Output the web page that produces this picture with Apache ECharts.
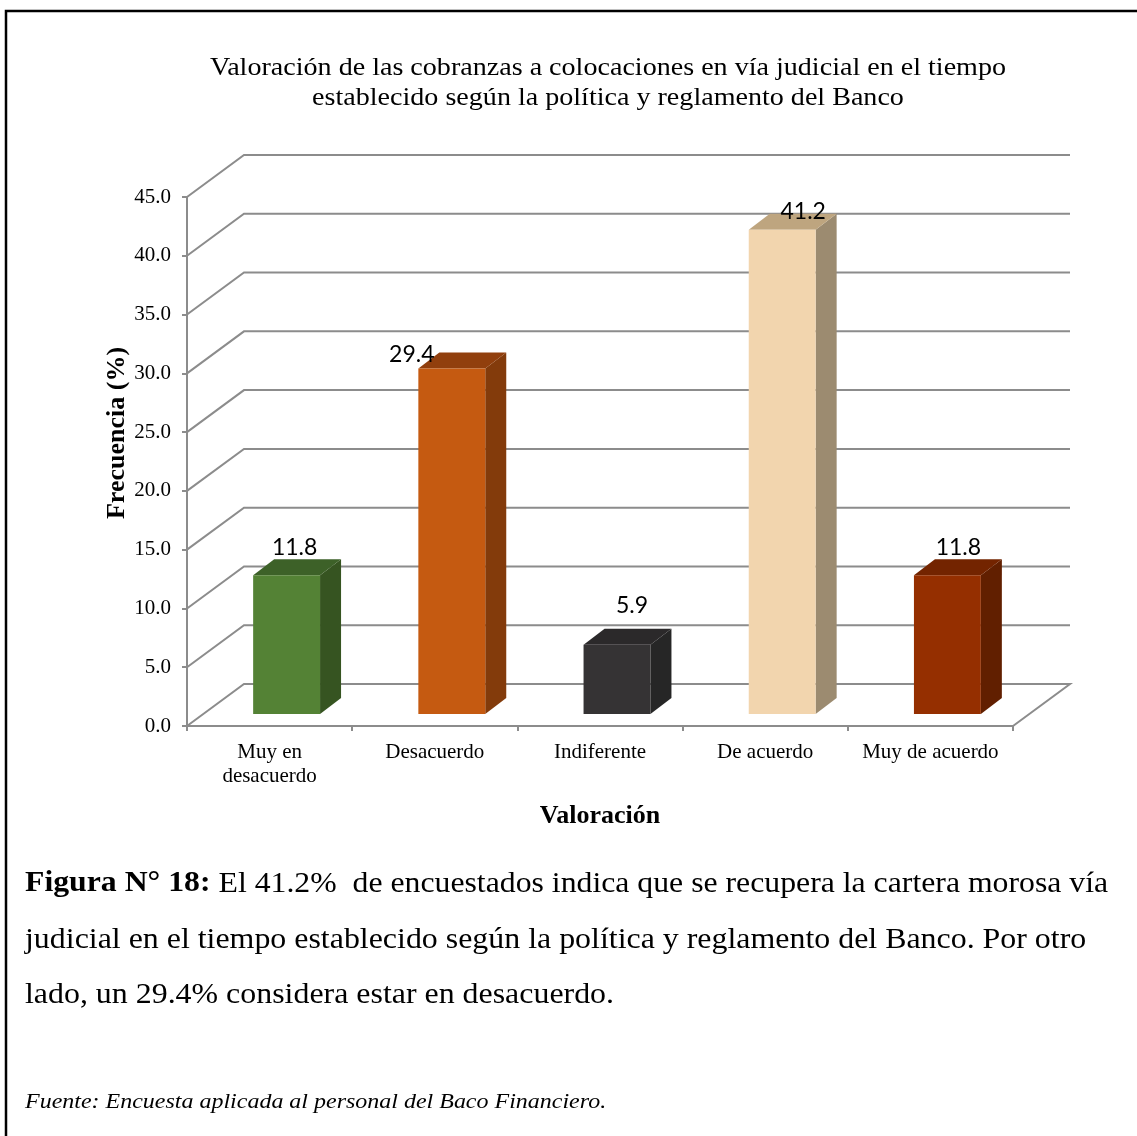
<!DOCTYPE html>
<html>
<head>
<meta charset="utf-8">
<script src="https://cdn.jsdelivr.net/npm/echarts@6/dist/echarts.min.js"></script>
<style>
  html, body { margin: 0; padding: 0; background: #ffffff; }
  #chart { width: 1137px; height: 1136px; }
</style>
</head>
<body>
<div id="chart"></div>
<script>
// Categories and percentages
const categories = ['Muy en\ndesacuerdo', 'Desacuerdo', 'Indiferente', 'De acuerdo', 'Muy de acuerdo'];
const values = [11.8, 29.4, 5.9, 41.2, 11.8];
const yTicks = [0, 5, 10, 15, 20, 25, 30, 35, 40, 45];

// Face colours of each 3D column: front, side, top
const frontColors = ['#548235', '#c55a11', '#353334', '#f2d5ae', '#952f00'];
const sideColors  = ['#365421', '#833b0b', '#262626', '#9c8b70', '#611f00'];
const topColors   = ['#3d6128', '#913f0d', '#2b292a', '#bea57f', '#732400'];

// Label nudges (px) from the top-centre of each column's front face
const labelNudge = [[8, -28], [-40, -14], [15, -39], [21, -18], [11, -28]];

// Projection used to fake depth
const WALL_DX = 57, WALL_DY = -42;   // back wall offset
const FACE_DX = 17, FACE_DY = -12;   // column front face offset
const SIDE_DX = 21, SIDE_DY = -16;   // column depth
const BAR_RATIO = 0.405;

const GRID_COLOR = '#8c8c8c';
const serif = '"Liberation Serif", "Times New Roman", serif';
const WIDE = 1.09;   // horizontal stretch of the page text

const chart = echarts.init(document.getElementById('chart'));

function renderWall(params, api) {
  const cs = params.coordSys;
  const v = api.value(1);
  const y = api.coord([0, v])[1];
  const x0 = cs.x, x1 = cs.x + cs.width;
  const pts = [[x0, y], [x0 + WALL_DX, y + WALL_DY], [x1 + WALL_DX, y + WALL_DY]];
  if (v === 0) pts.push([x1, y]);
  return {
    type: 'polyline',
    shape: { points: pts },
    style: { stroke: GRID_COLOR, lineWidth: 2, fill: null }
  };
}

function renderColumn(params, api) {
  const i = api.value(0);
  const v = api.value(1);
  const top = api.coord([i, v]);
  const base = api.coord([i, 0]);
  const w = api.size([1, 0])[0] * BAR_RATIO;
  const cx = top[0] + FACE_DX;
  const xl = cx - w / 2, xr = cx + w / 2;
  const yt = top[1] + FACE_DY, yb = base[1] + FACE_DY;
  const nudge = labelNudge[i];
  return {
    type: 'group',
    children: [
      {
        type: 'polygon',
        shape: { points: [[xr, yt], [xr + SIDE_DX, yt + SIDE_DY], [xr + SIDE_DX, yb + SIDE_DY], [xr, yb]] },
        style: { fill: sideColors[i] }
      },
      {
        type: 'polygon',
        shape: { points: [[xl, yt], [xl + SIDE_DX, yt + SIDE_DY], [xr + SIDE_DX, yt + SIDE_DY], [xr, yt]] },
        style: { fill: topColors[i] }
      },
      {
        type: 'rect',
        shape: { x: xl, y: yt, width: w, height: yb - yt },
        style: { fill: frontColors[i] }
      },
      {
        type: 'text',
        x: cx + nudge[0],
        y: yt + nudge[1],
        style: {
          text: v.toFixed(1),
          fill: '#000000',
          font: '23px Lato, "Noto Sans", sans-serif',
          align: 'center',
          verticalAlign: 'middle'
        }
      }
    ]
  };
}

function pageText(x, y, text, font, extra) {
  return Object.assign({
    type: 'text',
    x: x,
    y: y,
    scaleX: WIDE,
    style: { text: text, font: font, fill: '#000000', verticalAlign: 'middle' }
  }, extra || {});
}

const option = {
  animation: false,
  backgroundColor: '#ffffff',
  grid: { left: 187, right: 124, top: 197, bottom: 410, containLabel: false },
  xAxis: {
    type: 'category',
    data: categories,
    boundaryGap: true,
    name: 'Valoración',
    nameLocation: 'middle',
    nameGap: 77,
    nameTextStyle: { fontFamily: serif, fontWeight: 'bold', fontSize: 26, color: '#000000' },
    axisLine: { show: true, lineStyle: { color: GRID_COLOR, width: 2 } },
    axisTick: { show: true, length: 5, lineStyle: { color: GRID_COLOR, width: 2 } },
    axisLabel: {
      interval: 0,
      margin: 14,
      fontFamily: serif,
      fontSize: 21,
      lineHeight: 24,
      color: '#000000',
      verticalAlign: 'top'
    },
    splitLine: { show: false }
  },
  yAxis: {
    type: 'value',
    min: 0,
    max: 45,
    interval: 5,
    axisLine: { show: true, lineStyle: { color: GRID_COLOR, width: 2 } },
    axisTick: { show: true, length: 5, lineStyle: { color: GRID_COLOR, width: 2 } },
    axisLabel: {
      margin: 16,
      fontFamily: serif,
      fontSize: 21,
      color: '#000000',
      formatter: v => v.toFixed(1)
    },
    splitLine: { show: false }
  },
  series: [
    {
      type: 'custom',
      name: 'walls',
      z: 1,
      renderItem: renderWall,
      encode: { x: 0, y: 1 },
      data: yTicks.map(t => [0, t]),
      silent: true
    },
    {
      type: 'custom',
      name: 'Frecuencia',
      z: 3,
      renderItem: renderColumn,
      encode: { x: 0, y: 1 },
      data: values.map((v, i) => [i, v])
    }
  ],
  graphic: [
    // page frame
    {
      type: 'polyline',
      shape: { points: [[6, 1136], [6, 11], [1137, 11]] },
      style: { stroke: '#000000', lineWidth: 2.5, fill: null }
    },
    // chart title
    {
      type: 'text',
      x: 608,
      y: 83,
      scaleX: 1.08,
      style: {
        text: 'Valoración de las cobranzas a colocaciones en vía judicial en el tiempo\nestablecido según la política y reglamento del Banco',
        font: '26px ' + serif,
        lineHeight: 30,
        fill: '#000000',
        align: 'center',
        verticalAlign: 'middle'
      }
    },
    {
      type: 'text',
      x: 117,
      y: 433,
      rotation: Math.PI / 2,
      style: {
        text: 'Frecuencia (%)',
        font: 'bold 26px ' + serif,
        fill: '#000000',
        align: 'center',
        verticalAlign: 'middle'
      }
    },
    // figure caption
    {
      type: 'text',
      x: 25,
      y: 884,
      scaleX: 1.095,
      style: {
        text: '{b|Figura N° 18:} El 41.2%  de encuestados indica que se recupera la cartera morosa vía',
        rich: { b: { font: 'bold 29px ' + serif, fill: '#000000' } },
        font: '29px ' + serif,
        fill: '#000000',
        verticalAlign: 'middle'
      }
    },
    pageText(25, 940, 'judicial en el tiempo establecido según la política y reglamento del Banco. Por otro', '29px ' + serif, { scaleX: 1.1 }),
    pageText(25, 995, 'lado, un 29.4% considera estar en desacuerdo.', '29px ' + serif, { scaleX: 1.1 }),
    pageText(25, 1102, 'Fuente: Encuesta aplicada al personal del Baco Financiero.', 'italic 22px ' + serif)
  ]
};

chart.setOption(option);
</script>
</body>
</html>
